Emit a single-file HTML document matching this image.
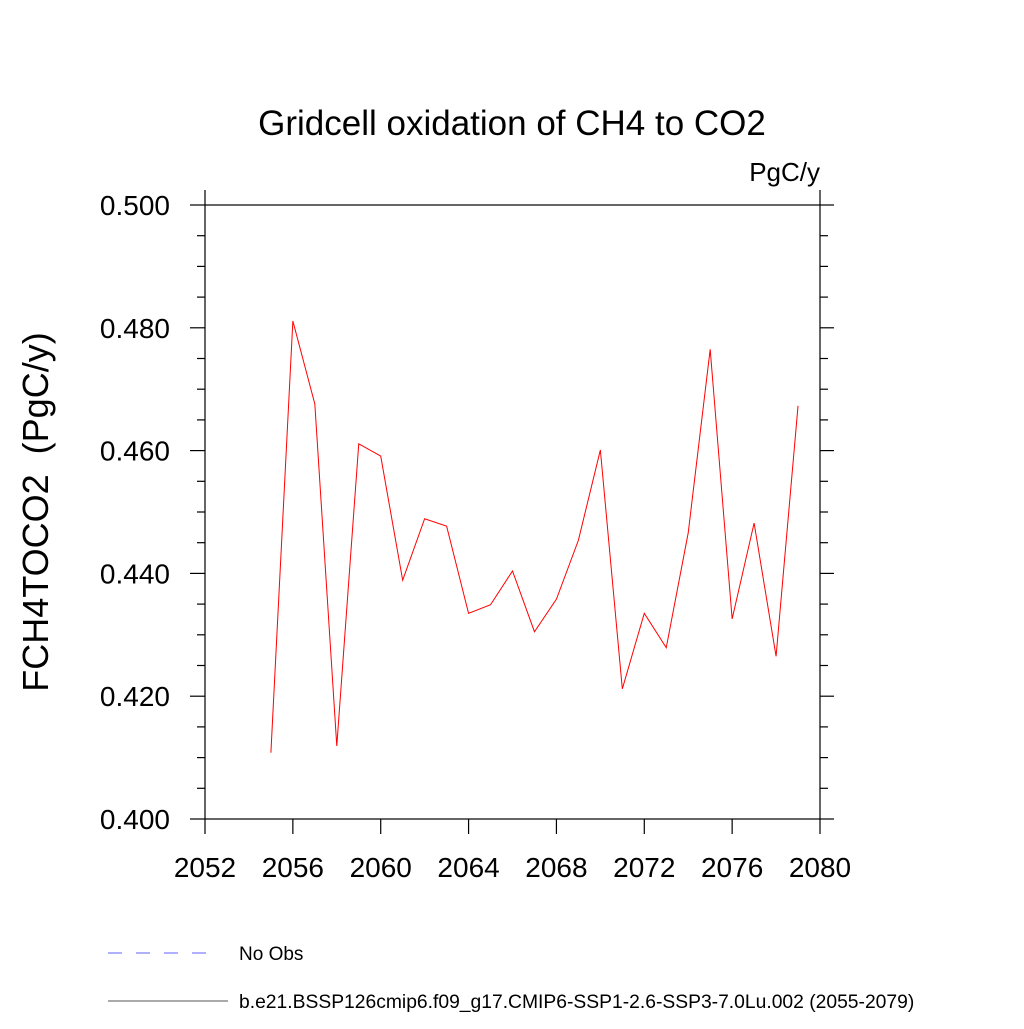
<!DOCTYPE html>
<html><head><meta charset="utf-8"><style>
body{margin:0;background:#fff;}
svg text{font-family:"Liberation Sans",sans-serif;white-space:pre;}
</style></head><body>
<svg id="chart" width="1024" height="1024" viewBox="0 0 1024 1024" xmlns="http://www.w3.org/2000/svg">
<rect width="1024" height="1024" fill="#fff"/>
<text x="512" y="135" font-size="35" text-anchor="middle">Gridcell oxidation of CH4 to CO2</text>
<text x="820" y="181" font-size="26" text-anchor="end">PgC/y</text>
<text transform="translate(48,512) rotate(-90)" font-size="36" text-anchor="middle" xml:space="preserve">FCH4TOCO2  (PgC/y)</text>
<g id="axes"></g>
<g id="series"></g>
<g>
<line x1="108" y1="953" x2="218" y2="953" stroke="#6060ff" stroke-width="1" stroke-dasharray="14,14"/>
<text x="239" y="960" font-size="19">No Obs</text>
<line x1="108" y1="1001" x2="228" y2="1001" stroke="#555" stroke-width="1"/>
<text x="239" y="1008" font-size="19.3">b.e21.BSSP126cmip6.f09_g17.CMIP6-SSP1-2.6-SSP3-7.0Lu.002 (2055-2079)</text>
</g>
</svg>
<script>
const years=[2055,2056,2057,2058,2059,2060,2061,2062,2063,2064,2065,2066,2067,2068,2069,2070,2071,2072,2073,2074,2075,2076,2077,2078,2079];
const values=[0.4108,0.4811,0.4676,0.4119,0.4611,0.4591,0.4389,0.4489,0.4477,0.4335,0.4349,0.4404,0.4305,0.4358,0.4454,0.4601,0.4212,0.4335,0.4279,0.4466,0.4765,0.4326,0.4482,0.4265,0.4673];
const xTicks=[2052,2056,2060,2064,2068,2072,2076,2080];
const yTicks=[0.400,0.420,0.440,0.460,0.480,0.500];
const L=205,R=820,T=205,B=819,X0=2052,X1=2080,Y0=0.4,Y1=0.5;
const sx=v=>L+(v-X0)/(X1-X0)*(R-L);
const sy=v=>B-(v-Y0)/(Y1-Y0)*(B-T);
const NS="http://www.w3.org/2000/svg";
const ax=document.getElementById('axes');
function ln(x1,y1,x2,y2,name){const e=document.createElementNS(NS,'line');
e.setAttribute('x1',x1);e.setAttribute('y1',y1);e.setAttribute('x2',x2);e.setAttribute('y2',y2);
e.setAttribute('stroke','#000');e.setAttribute('stroke-width','1.2');


ax.appendChild(e);return e;}
function tx(x,y,s,anchor,name){const e=document.createElementNS(NS,'text');
e.setAttribute('x',x);e.setAttribute('y',y);e.setAttribute('font-size','28');e.setAttribute('text-anchor',anchor);e.textContent=s;


ax.appendChild(e);}
const r=document.createElementNS(NS,'rect');
r.setAttribute('x',L);r.setAttribute('y',T);r.setAttribute('width',R-L);r.setAttribute('height',B-T);
r.setAttribute('fill','none');r.setAttribute('stroke','#000');r.setAttribute('stroke-width','1.2');


ax.appendChild(r);
ln(L,T,L,T-15,'frame-ext-left');ln(R,T,R,T-15,'frame-ext-right');
xTicks.forEach(v=>{const x=sx(v);ln(x,B,x,B+15,'x-tick');tx(x,877,String(v),'middle','x-tick-label');});
yTicks.forEach(v=>{const y=sy(v);ln(L,y,L-15,y,'y-tick');ln(R,y,R+14,y,'y-tick-right');tx(170,y+10,v.toFixed(3),'end','y-tick-label');});
for(let k=1;k<20;k++){if(k%4===0)continue;const y=sy(Y0+k*0.005);ln(L,y,L-8,y,'y-minor-tick');ln(R,y,R+8,y,'y-minor-tick-right');}
const p=document.createElementNS(NS,'polyline');
p.setAttribute('points',years.map((y,i)=>sx(y)+','+sy(values[i])).join(' '));
p.setAttribute('fill','none');p.setAttribute('stroke','#ff0000');p.setAttribute('stroke-width','1');


document.getElementById('series').appendChild(p);
</script>
</body></html>
